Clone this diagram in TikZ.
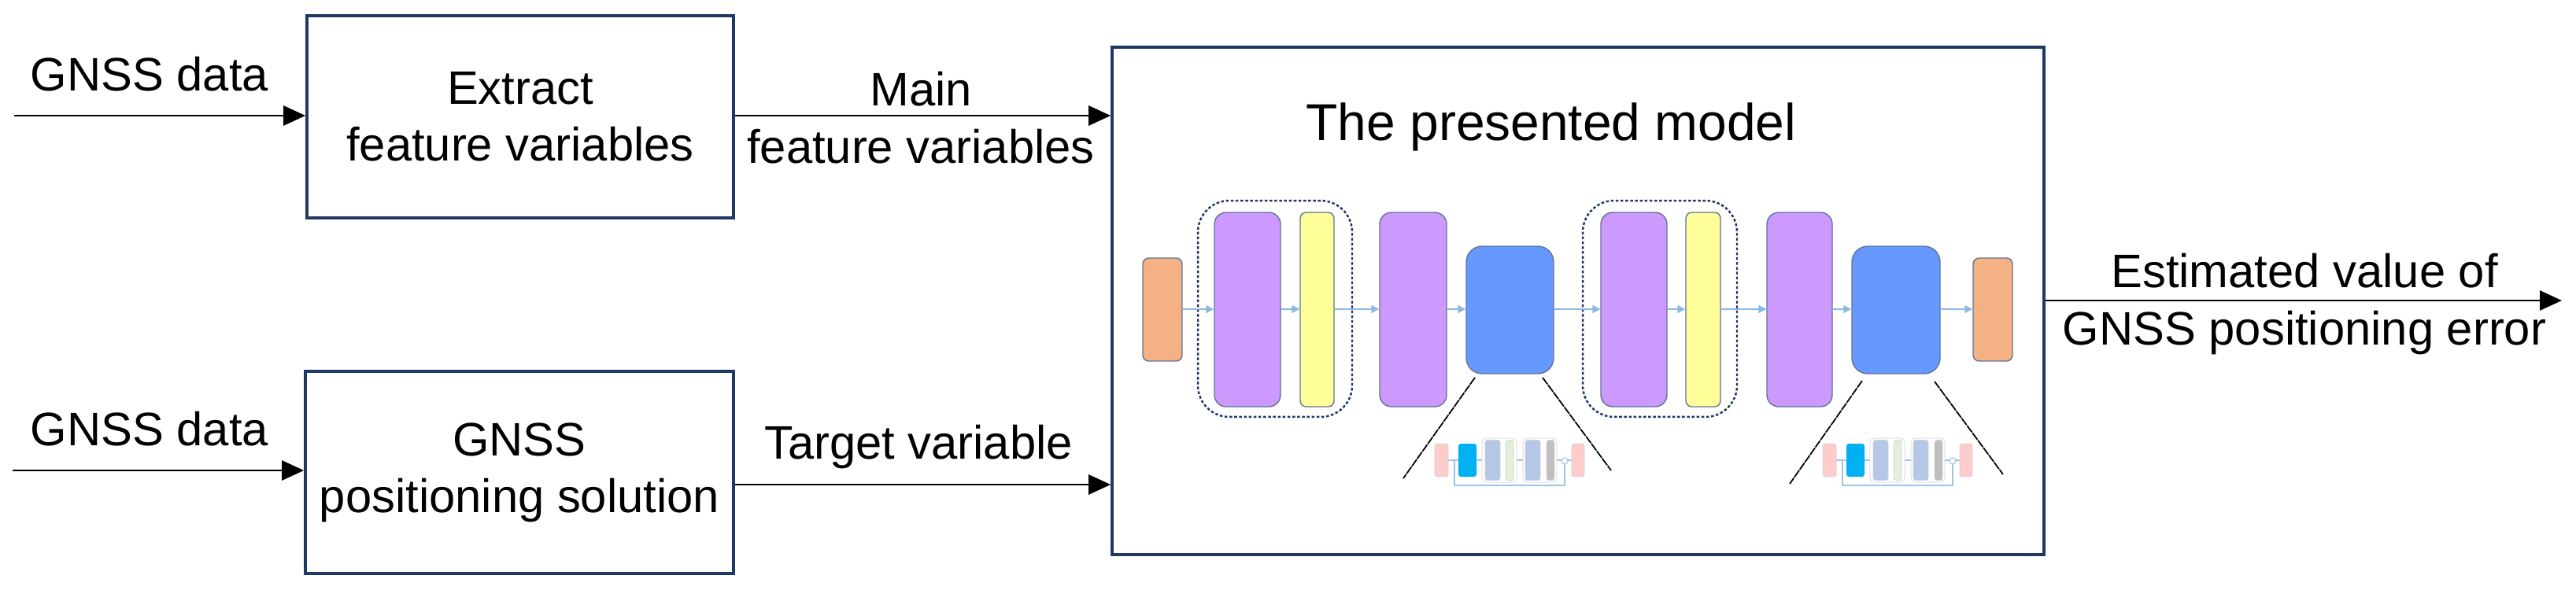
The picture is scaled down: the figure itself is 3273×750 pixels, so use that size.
\documentclass[tikz,border=0pt]{standalone}
\usepackage{fontspec}
\setmainfont{Liberation Sans}
\usetikzlibrary{arrows.meta}

\definecolor{navy}{HTML}{1F3864}
\definecolor{orangel}{HTML}{F4B183}
\definecolor{purplel}{HTML}{CC99FF}
\definecolor{yellowl}{HTML}{FFFF99}
\definecolor{bluel}{HTML}{6699FF}
\definecolor{linkc}{HTML}{5B9BD5}
\definecolor{pinkl}{HTML}{FFCCCC}
\definecolor{cyanl}{HTML}{00B0F0}
\definecolor{greyblue}{HTML}{B4C7E7}
\definecolor{greenl}{HTML}{E2F0D9}
\definecolor{greyl}{HTML}{BFBFBF}
\definecolor{skipc}{HTML}{9DC3E6}

\tikzset{
	block/.style={rectangle,draw=navy,line width=2.2pt,align=center},
	flow/.style={line width=1.7pt,-{Triangle[length=0.56cm,width=0.5cm]}},
	layer/.style={rectangle,rounded corners=0.3cm,draw=navy!70,line width=0.8pt},
	group/.style={rectangle,rounded corners=0.8cm,draw=navy,dashed,line width=1.4pt,dash pattern=on 2pt off 1.5pt},
	link/.style={linkc!70,line width=1.2pt,-{Triangle[length=0.2cm,width=0.2cm]}},
	mini/.style={rectangle,rounded corners=0.06cm,draw=greyl!70,line width=0.4pt,inner sep=0},
	txt/.style={font=\fontsize{34}{41}\selectfont,align=center,inner sep=0},
}

\begin{document}
\begin{tikzpicture}[x=0.02cm,y=-0.02cm]

	\useasboundingbox (0,0) rectangle (3273,750);

	% input blocks
	\node[block,txt,minimum width=10.84cm,minimum height=5.14cm] (extract) at (661,148.5) {Extract\\feature variables};
	\node[block,txt,minimum width=10.88cm,minimum height=5.14cm] (solution) at (660,600.5) {GNSS\\positioning solution};
	\node[block,minimum width=23.68cm,minimum height=12.9cm] (model) at (2005,382.5) {};

	\coordinate (in1) at (18,147);
	\coordinate (in2) at (16,598);
	\coordinate (out) at (3255,382);

	\node[txt,anchor=base] (data1) at (190,115) {GNSS data};
	\node[txt,anchor=base] (data2) at (190,566) {GNSS data};
	\node[txt,anchor=base] (main) at (1170,207) {Main\\feature variables};
	\node[txt,anchor=base] (target) at (1167,583) {Target variable};
	\node[txt,anchor=base,font=\fontsize{37.5}{45}\selectfont] (title) at (1971,178) {The presented model};
	\node[txt,anchor=base] (estimate) at (2928,438) {Estimated value of\\GNSS positioning error};

	\draw[flow] (in1) -- (extract.west |- in1);
	\draw[flow] (in2) -- (solution.west |- in2);
	\draw[flow] (extract.east |- 0,147) -- (model.west |- 0,147);
	\draw[flow] (solution.east |- 0,616) -- (model.west |- 0,616);
	\draw[flow] (model.east |- out) -- (out);

	% layers of the model
	\node[group,minimum width=3.92cm,minimum height=5.5cm] (g1) at (1620,392.5) {};
	\node[group,minimum width=3.92cm,minimum height=5.5cm] (g2) at (2109,392.5) {};

	\node[layer,fill=orangel,minimum width=1cm,minimum height=2.62cm,rounded corners=0.15cm] (o1) at (1477,393.5) {};
	\node[layer,fill=purplel,minimum width=1.68cm,minimum height=4.94cm] (p1) at (1585,393.5) {};
	\node[layer,fill=yellowl,minimum width=0.86cm,minimum height=4.94cm,rounded corners=0.15cm] (y1) at (1673.5,393.5) {};
	\node[layer,fill=purplel,minimum width=1.7cm,minimum height=4.94cm] (p2) at (1795.5,393.5) {};
	\node[layer,fill=bluel,minimum width=2.22cm,minimum height=3.24cm,rounded corners=0.4cm] (b1) at (1918.5,394) {};
	\node[layer,fill=purplel,minimum width=1.68cm,minimum height=4.94cm] (p3) at (2076,393.5) {};
	\node[layer,fill=yellowl,minimum width=0.88cm,minimum height=4.94cm,rounded corners=0.15cm] (y2) at (2164,393.5) {};
	\node[layer,fill=purplel,minimum width=1.66cm,minimum height=4.94cm] (p4) at (2286.5,393.5) {};
	\node[layer,fill=bluel,minimum width=2.24cm,minimum height=3.24cm,rounded corners=0.4cm] (b2) at (2409,394) {};
	\node[layer,fill=orangel,minimum width=1cm,minimum height=2.62cm,rounded corners=0.15cm] (o2) at (2532,393.5) {};

	\foreach \a/\b in {o1/p1,p1/y1,y1/p2,p2/b1,b1/p3,p3/y2,y2/p4,p4/b2,b2/o2}
		\draw[link] (\a.east |- 0,393) -- (\b.west |- 0,393);

	% zoom into the blue blocks
	\coordinate (z1a) at (1783,608);
	\coordinate (z1b) at (2047,598);
	\coordinate (z2a) at (2274,615);
	\coordinate (z2b) at (2545,603);
	\draw[line width=1pt,dash pattern=on 6pt off 0.6pt] (1874,480) -- (z1a) (1960,480) -- (z1b);
	\draw[line width=1pt,dash pattern=on 6pt off 0.6pt] (2366,484) -- (z2a) (2458,485) -- (z2b);

	\foreach \o/\n in {0/a,493/b}{
		\begin{scope}[xshift=\o*0.02cm]
		\draw[skipc,line width=0.8pt] (1823,585) -- (2005,585);
		\draw[skipc,line width=0.8pt] (1848,585) -- (1848,617) -- (1988,617) -- (1988,590);
		\node[mini,fill=pinkl,minimum width=0.34cm,minimum height=0.84cm] (pl\n) at (1831.5,585) {};
		\node[mini,fill=cyanl,draw=none,minimum width=0.46cm,minimum height=0.84cm] (cy\n) at (1864.5,585) {};
		\node[mini,fill=white,minimum width=0.88cm,minimum height=1.12cm,rounded corners=0.12cm] (ga\n) at (1905,585) {};
		\node[mini,fill=greyblue,minimum width=0.38cm,minimum height=1.02cm] (ba\n) at (1896.5,585) {};
		\node[mini,fill=greenl,minimum width=0.2cm,minimum height=1.02cm] (gr\n) at (1918,585) {};
		\node[mini,fill=white,minimum width=0.86cm,minimum height=1.12cm,rounded corners=0.12cm] (gb\n) at (1956.5,585) {};
		\node[mini,fill=greyblue,minimum width=0.38cm,minimum height=1.02cm] (bb\n) at (1947.5,585) {};
		\node[mini,fill=greyl,minimum width=0.2cm,minimum height=1.02cm] (gy\n) at (1970,585) {};
		\node[circle,draw=skipc,fill=white,line width=0.6pt,minimum size=0.16cm,inner sep=0] (add\n) at (1988,586) {};
		\node[mini,fill=pinkl,minimum width=0.32cm,minimum height=0.84cm] (pr\n) at (2005,585) {};
		\end{scope}
	}

\end{tikzpicture}
\end{document}
